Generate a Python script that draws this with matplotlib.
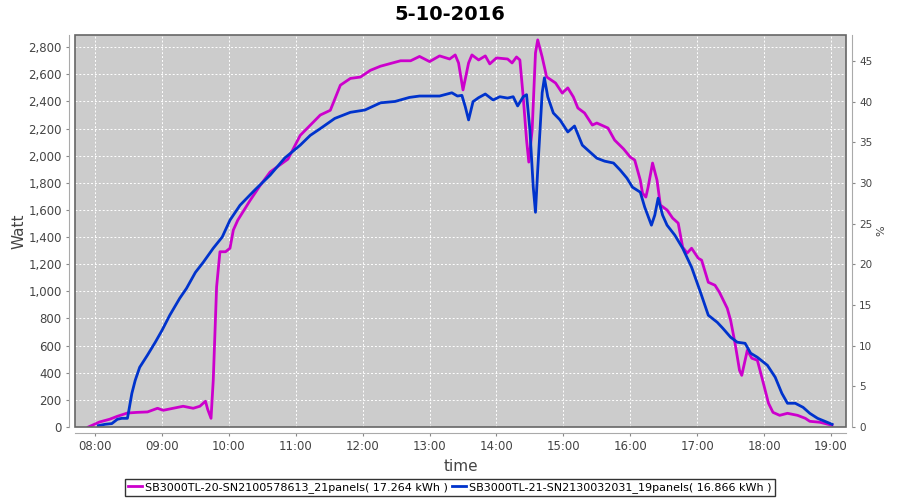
import pandas as pd
import matplotlib
matplotlib.use('Agg')
import matplotlib.pyplot as plt
import matplotlib.dates as mdates
from matplotlib.patches import Rectangle
from matplotlib.ticker import FuncFormatter, MultipleLocator

day = '2016-05-10 '

# inverter SB3000TL-20 (magenta)
times_a = ['07:54', '08:04', '08:13', '08:20', '08:29', '08:38', '08:47', '08:56', '09:01', '09:10',
           '09:19', '09:28', '09:34', '09:39', '09:41', '09:44', '09:46', '09:49', '09:52', '09:57',
           '10:01', '10:04', '10:08', '10:19', '10:28', '10:37', '10:53', '11:04', '11:13', '11:22',
           '11:31', '11:40', '11:49', '11:58', '12:07', '12:16', '12:25', '12:34', '12:43', '12:51',
           '13:00', '13:09', '13:18', '13:23', '13:26', '13:30', '13:35', '13:38', '13:44', '13:50',
           '13:54', '14:00', '14:10', '14:14', '14:18', '14:21', '14:24', '14:27', '14:29', '14:32',
           '14:35', '14:37', '14:41', '14:45', '14:53', '14:59', '15:04', '15:09', '15:13', '15:19',
           '15:26', '15:30', '15:36', '15:40', '15:46', '15:54', '16:00', '16:04', '16:09', '16:11',
           '16:14', '16:16', '16:20', '16:24', '16:27', '16:33', '16:38', '16:43', '16:47', '16:51',
           '16:55', '17:01', '17:04', '17:10', '17:16', '17:20', '17:27', '17:30', '17:34', '17:38',
           '17:40', '17:45', '17:49', '17:54', '17:58', '18:04', '18:08', '18:14', '18:21', '18:30',
           '18:37', '18:41', '18:50', '19:01']
watt_a = [0, 37, 57, 79, 103, 108, 111, 138, 123, 138,
          153, 138, 153, 190, 130, 64, 345, 1033, 1292, 1292,
          1318, 1452, 1525, 1670, 1780, 1880, 1975, 2150, 2225, 2300,
          2335, 2520, 2570, 2580, 2630, 2660, 2680, 2700, 2700, 2732,
          2694, 2736, 2713, 2743, 2684, 2485, 2684, 2743, 2706, 2736,
          2677, 2721, 2713, 2684, 2728, 2706, 2433, 2115, 1953, 2189,
          2758, 2854, 2728, 2581, 2536, 2462, 2500, 2433, 2352, 2315,
          2226, 2241, 2219, 2204, 2115, 2050, 1990, 1968, 1820, 1724,
          1695, 1768, 1946, 1820, 1636, 1600, 1540, 1503, 1326, 1282,
          1318, 1244, 1230, 1067, 1045, 993, 875, 787, 617, 418,
          381, 566, 507, 492, 367, 175, 108, 86, 101, 86,
          64, 42, 35, 13]

# inverter SB3000TL-21 (blue)
times_b = ['08:03', '08:09', '08:15', '08:20', '08:24', '08:29', '08:30', '08:33', '08:36', '08:40',
           '08:47', '08:54', '09:00', '09:07', '09:16', '09:22', '09:30', '09:37', '09:46', '09:54',
           '10:01', '10:10', '10:23', '10:37', '10:50', '11:04', '11:13', '11:22', '11:35', '11:49',
           '12:02', '12:16', '12:29', '12:42', '12:51', '13:09', '13:20', '13:25', '13:29', '13:32',
           '13:35', '13:39', '13:44', '13:50', '13:57', '14:03', '14:10', '14:15', '14:19', '14:24',
           '14:27', '14:30', '14:33', '14:35', '14:37', '14:41', '14:43', '14:46', '14:51', '14:57',
           '15:04', '15:10', '15:17', '15:22', '15:30', '15:37', '15:45', '15:51', '15:57', '16:02',
           '16:09', '16:13', '16:19', '16:22', '16:25', '16:29', '16:33', '16:40', '16:47', '16:55',
           '17:03', '17:10', '17:18', '17:23', '17:30', '17:36', '17:43', '17:48', '17:54', '18:03',
           '18:10', '18:16', '18:21', '18:28', '18:35', '18:41', '18:48', '19:01']
watt_b = [10, 20, 25, 57, 64, 64, 108, 248, 344, 440,
          530, 625, 712, 824, 950, 1022, 1140, 1214, 1318, 1400,
          1525, 1635, 1745, 1857, 1982, 2078, 2150, 2200, 2275, 2320,
          2337, 2390, 2400, 2430, 2440, 2440, 2464, 2440, 2445, 2362,
          2264, 2399, 2428, 2455, 2411, 2435, 2425, 2435, 2367, 2435,
          2450, 2190, 1768, 1583, 1894, 2464, 2574, 2435, 2315, 2264,
          2175, 2219, 2078, 2041, 1982, 1960, 1946, 1894, 1835, 1768,
          1731, 1620, 1488, 1562, 1687, 1562, 1488, 1414, 1318, 1178,
          993, 824, 772, 728, 662, 625, 617, 544, 514, 455,
          367, 248, 175, 175, 145, 101, 64, 20]

label_a = 'SB3000TL-20-SN2100578613_21panels( 17.264 kWh )'
label_b = 'SB3000TL-21-SN2130032031_19panels( 16.866 kWh )'

ta = pd.to_datetime([day + t for t in times_a])
tb = pd.to_datetime([day + t for t in times_b])

txt = '#444444'
fig = plt.figure(figsize=(9, 5), dpi=100)
ax = fig.add_axes([75 / 900, 1 - 427 / 500, 771 / 900, 392 / 500])
ax.set_facecolor('#cccccc')

ax.plot(ta, watt_a, color='#cc00cc', lw=2, label=label_a)
ax.plot(tb, watt_b, color='#0033cc', lw=2, label=label_b)

ax.set_xlim(pd.Timestamp(day + '07:42'), pd.Timestamp(day + '19:13:30'))
ax.set_ylim(0, 2890)
ax.yaxis.set_major_locator(MultipleLocator(200))
ax.yaxis.set_major_formatter(FuncFormatter(lambda v, p: f'{int(v):,}'))
ax.xaxis.set_major_locator(mdates.HourLocator())
ax.xaxis.set_major_formatter(mdates.DateFormatter('%H:%M'))
ax.grid(True, color='white', ls=(0, (2, 2)), lw=0.7)

for s in ['top', 'right']:
    ax.spines[s].set_visible(False)
for s in ['left', 'bottom']:
    ax.spines[s].set_position(('outward', 4))
    ax.spines[s].set_color('#aaaaaa')
ax.add_patch(Rectangle((0, 0), 1, 1, transform=ax.transAxes, fill=False,
                       edgecolor='#666666', lw=1.2, clip_on=False, zorder=5))
ax.tick_params(colors='#888888', labelcolor=txt, labelsize=8.5, length=2)

ax2 = ax.twinx()
ax2.set_ylim(0, 48.2)
ax2.yaxis.set_major_locator(MultipleLocator(5))
for s in ['top', 'left', 'bottom']:
    ax2.spines[s].set_visible(False)
ax2.spines['right'].set_position(('outward', 4))
ax2.spines['right'].set_color('#aaaaaa')
ax2.tick_params(colors='#888888', labelcolor=txt, labelsize=7.5, length=2)
ax2.set_ylabel('%', fontsize=8, color=txt, labelpad=3)

ax.set_ylabel('Watt', fontsize=11, color=txt, labelpad=1)
ax.set_xlabel('time', fontsize=11, color=txt, labelpad=4)
fig.suptitle('5-10-2016', fontsize=14, fontweight='bold', y=0.99)

fig.legend(loc='center', bbox_to_anchor=(450 / 900, 1 - 487.5 / 500), ncol=2,
           fontsize=8, frameon=True, fancybox=False, edgecolor='black',
           handlelength=1.2, handletextpad=0.3, columnspacing=0.4,
           borderpad=0.3, borderaxespad=0)

fig.savefig('out.png', dpi=100)
